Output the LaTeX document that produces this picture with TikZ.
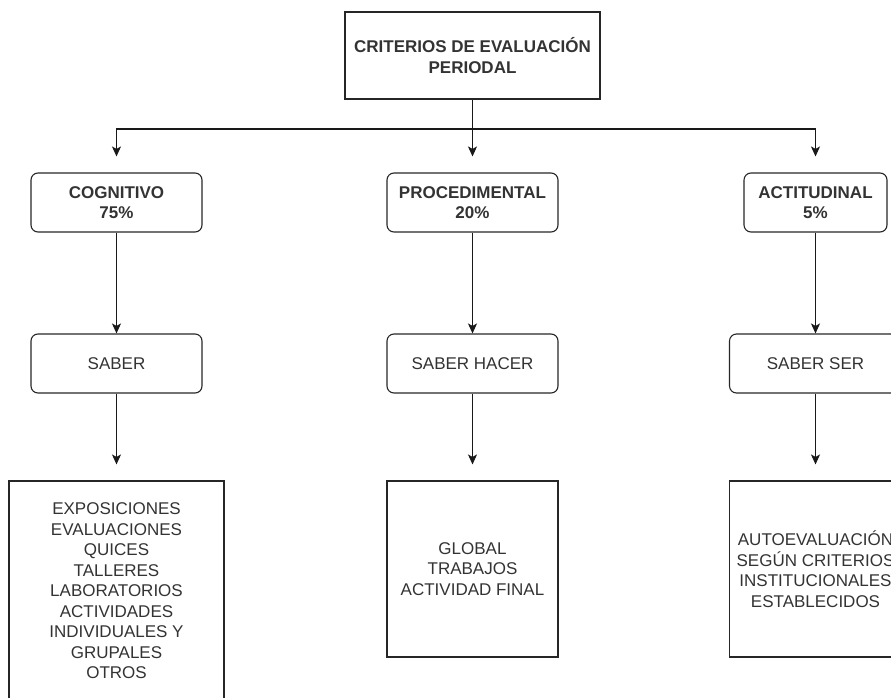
\documentclass[tikz,border=0pt]{standalone}
\usepackage{fontspec}
\setmainfont{Liberation Sans}
\usetikzlibrary{arrows.meta}
\tikzstyle{titlebox} = [rectangle, minimum width=255pt, minimum height=87pt, align=center, draw=black!85, line width=1.1pt, text=black!80, font=\bfseries\fontsize{17}{20.5}\selectfont]
\tikzstyle{levelbox} = [rectangle, rounded corners=7pt, minimum width=171pt, minimum height=59pt, align=center, draw=black!85, line width=1.1pt, text=black!80, font=\bfseries\fontsize{17}{20.5}\selectfont]
\tikzstyle{skillbox} = [rectangle, rounded corners=7pt, minimum width=171pt, minimum height=59pt, align=center, draw=black!85, line width=1.1pt, text=black!80, font=\fontsize{17}{20.5}\selectfont]
\tikzstyle{listbox} = [rectangle, minimum width=171pt, minimum height=176pt, align=center, draw=black!85, line width=1.1pt, text=black!80, font=\fontsize{17}{20.5}\selectfont]
\tikzstyle{arrow} = [line width=1.1pt, black!90, -{Stealth[length=10pt, width=9pt, inset=2.5pt]}]

\begin{document}
\begin{tikzpicture}[x=1pt, y=1pt]
\useasboundingbox (0,0) rectangle (891,-698);

\node (crit) [titlebox] at (472.5,-55.5) {CRITERIOS DE EVALUACIÓN\\PERIODAL};
\coordinate (bus) at (472.5,-129);

\node (proc) [levelbox, below of=crit, node distance=147pt] {PROCEDIMENTAL\\20\%};
\node (cog) [levelbox, left of=proc, node distance=356pt] {COGNITIVO\\75\%};
\node (act) [levelbox, right of=proc, node distance=343pt, minimum width=143pt] {ACTITUDINAL\\5\%};

\node (saber) [skillbox, below of=cog, node distance=161pt] {SABER};
\node (hacer) [skillbox, below of=proc, node distance=161pt] {SABER HACER};
\node (ser) [skillbox, below of=act, node distance=161pt, minimum width=172pt] {SABER SER};

\node (list1) [listbox, below of=saber, node distance=227.5pt, minimum width=215pt, minimum height=220pt] {EXPOSICIONES\\EVALUACIONES\\QUICES\\TALLERES\\LABORATORIOS\\ACTIVIDADES\\INDIVIDUALES Y\\GRUPALES\\OTROS};
\node (list2) [listbox, below of=hacer, node distance=205.5pt] {GLOBAL\\TRABAJOS\\ACTIVIDAD FINAL};
\node (list3) [listbox, below of=ser, node distance=205.5pt, minimum width=172pt] {AUTOEVALUACIÓN\\SEGÚN CRITERIOS\\INSTITUCIONALES\\ESTABLECIDOS};

\draw [arrow, shorten >=16pt] (crit) -- (proc);
\draw [arrow, shorten >=16pt] (bus) -| (cog);
\draw [arrow, shorten >=16pt] (bus) -| (act);

\draw [arrow] (cog) -- (saber);
\draw [arrow] (proc) -- (hacer);
\draw [arrow] (act) -- (ser);

\draw [arrow, shorten >=16pt] (saber) -- (list1);
\draw [arrow, shorten >=16pt] (hacer) -- (list2);
\draw [arrow, shorten >=16pt] (ser) -- (list3);

\end{tikzpicture}
\end{document}
